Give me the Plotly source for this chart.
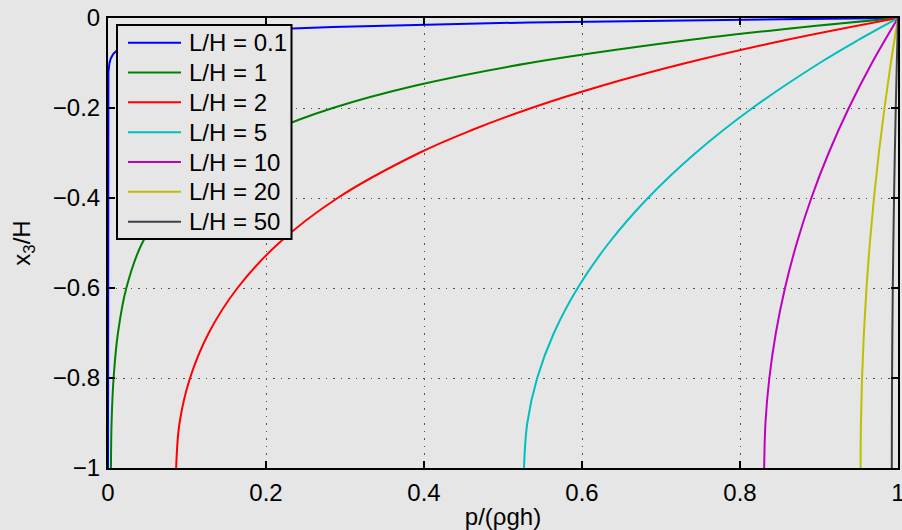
import plotly.graph_objects as go

# ---- data ----
series_labels = ["L/H = 0.1", "L/H = 1", "L/H = 2", "L/H = 5", "L/H = 10", "L/H = 20", "L/H = 50"]
series_colors = ["#0000ff", "#008000", "#ff0000", "#00bfbf", "#bf00bf", "#bfbf00", "#404040"]

x3_lh01 = [-1.0, -0.2, -0.15, -0.12, -0.1, -0.09, -0.08, -0.07, -0.06, -0.05, -0.04, -0.035,
           -0.03, -0.025, -0.02, -0.015, -0.0125, -0.01, -0.0075, -0.005, -0.0025, 0.0]
p_lh01 = [0.0, 0.0000035, 0.0000807, 0.000532, 0.001867, 0.0035, 0.00656, 0.0123, 0.02305, 0.04321,
          0.081, 0.1109, 0.1518, 0.20788, 0.2846, 0.3897, 0.45594, 0.5335, 0.62423, 0.7304, 0.85464, 1.0]

x3_lh1 = [-1.0, -0.9, -0.8, -0.7, -0.6, -0.5, -0.4, -0.3, -0.25, -0.2, -0.15, -0.1, -0.05, -0.025, 0.0]
p_lh1 = [0.00373, 0.0045, 0.00709, 0.01258, 0.02321, 0.04329, 0.08105, 0.15186, 0.2079, 0.28463,
         0.38967, 0.5335, 0.73042, 0.85464, 1.0]

x3_lh2 = [-1.0, -0.9, -0.8, -0.7, -0.6, -0.5, -0.4, -0.3, -0.25, -0.2, -0.15, -0.1, -0.05, 0.0]
p_lh2 = [0.08627, 0.09056, 0.10386, 0.1275, 0.16383, 0.21646, 0.29063, 0.39372, 0.45918, 0.53599,
         0.62608, 0.7316, 0.85523, 1.0]

x3_lh5 = [-1.0, -0.9, -0.8, -0.7, -0.6, -0.5, -0.4, -0.3, -0.2, -0.1, -0.05, 0.0]
p_lh5 = [0.52657, 0.53073, 0.54328, 0.56443, 0.5945, 0.63397, 0.68347, 0.74377, 0.81583, 0.90079,
         0.94852, 1.0]

x3_lh10 = [-1.0, -0.9, -0.8, -0.7, -0.6, -0.5, -0.4, -0.3, -0.2, -0.1, 0.0]
p_lh10 = [0.83058, 0.83222, 0.83715, 0.84538, 0.85695, 0.87191, 0.89031, 0.91222, 0.93774, 0.96696, 1.0]

x3_lh20 = [-1.0, -0.9, -0.8, -0.7, -0.6, -0.5, -0.4, -0.3, -0.2, -0.1, 0.0]
p_lh20 = [0.9526, 0.95307, 0.95448, 0.95684, 0.96013, 0.96438, 0.96957, 0.97573, 0.98285, 0.99093, 1.0]

x3_lh50 = [-1.0, -0.9, -0.8, -0.7, -0.6, -0.5, -0.4, -0.3, -0.2, -0.1, 0.0]
p_lh50 = [0.99216, 0.99223, 0.99247, 0.99286, 0.99341, 0.99411, 0.99498, 0.99599, 0.99717, 0.9985, 1.0]

x_tick_vals = [0, 0.2, 0.4, 0.6, 0.8, 1]
x_tick_text = ["0", "0.2", "0.4", "0.6", "0.8", "1"]
y_tick_vals = [-1, -0.8, -0.6, -0.4, -0.2, 0]
y_tick_text = ["\u22121", "\u22120.8", "\u22120.6", "\u22120.4", "\u22120.2", "0"]

curves = [(p_lh01, x3_lh01, "linear"), (p_lh1, x3_lh1, "spline"), (p_lh2, x3_lh2, "spline"),
          (p_lh5, x3_lh5, "spline"), (p_lh10, x3_lh10, "spline"), (p_lh20, x3_lh20, "spline"),
          (p_lh50, x3_lh50, "spline")]

BG = "#e6e6e6"
FONT = "Liberation Sans, Arial, sans-serif"
FS = 24

# layout geometry (pixels)
W, H = 902, 530
ML, MR, MT, MB = 108, 4, 18, 62
PW, PH = W - ML - MR, H - MT - MB


def px2x(px):
    return (px - ML) / PW


def py2y(py):
    return 1 - (py - MT) / PH


fig = go.Figure()
for (px, py, shape), name, col in zip(curves, series_labels, series_colors):
    fig.add_trace(go.Scatter(x=px, y=py, mode="lines", name=name, showlegend=False,
                             line=dict(color=col, width=2, shape=shape)))

axis_common = dict(
    showline=True, linecolor="black", linewidth=2, mirror="ticks",
    ticks="inside", ticklen=7, tickwidth=2, tickcolor="black",
    showgrid=True, gridcolor="#505050", gridwidth=1, griddash="1.5px,6px",
    zeroline=False, automargin=False, ticklabeloverflow="allow",
    tickfont=dict(size=FS, color="black", family=FONT),
)

fig.update_xaxes(range=[0, 1], tickvals=x_tick_vals, ticktext=x_tick_text,
                 title=dict(text="p/(\u03c1gh)", font=dict(size=FS, color="black", family=FONT)),
                 ticklabelstandoff=2, **axis_common)
fig.update_yaxes(range=[-1, 0], tickvals=y_tick_vals, ticktext=y_tick_text,
                 title=dict(text="x<sub>3</sub>/H", font=dict(size=FS, color="black", family=FONT)),
                 ticklabelstandoff=1, **axis_common)

# ---- legend box (MATLAB style) ----
LEG_X0, LEG_X1, LEG_Y0, LEG_Y1 = 117, 291.5, 25, 239
ROW0, ROW_STEP = 42.7, 29.83
SAMPLE_X0, SAMPLE_X1, TEXT_X = 128, 181, 187

shapes = [dict(type="rect", xref="paper", yref="paper", layer="above",
               x0=px2x(LEG_X0), x1=px2x(LEG_X1), y0=py2y(LEG_Y1), y1=py2y(LEG_Y0),
               line=dict(color="black", width=2), fillcolor=BG)]
annotations = []
for i, (name, col) in enumerate(zip(series_labels, series_colors)):
    yc = py2y(ROW0 + i * ROW_STEP)
    shapes.append(dict(type="line", xref="paper", yref="paper", layer="above",
                       x0=px2x(SAMPLE_X0), x1=px2x(SAMPLE_X1), y0=yc, y1=yc,
                       line=dict(color=col, width=2)))
    annotations.append(dict(xref="paper", yref="paper", x=px2x(TEXT_X), y=yc,
                            xanchor="left", yanchor="middle", showarrow=False, text=name,
                            font=dict(size=FS, family=FONT, color="black")))

fig.update_layout(
    width=W, height=H,
    margin=dict(l=ML, r=MR, t=MT, b=MB),
    paper_bgcolor=BG, plot_bgcolor=BG,
    font=dict(family=FONT, size=FS, color="black"),
    showlegend=False,
    shapes=shapes, annotations=annotations,
)

fig.write_html(
    "out.html",
    config={"displayModeBar": False},
    post_script="document.body.style.margin='0';document.body.style.overflow='hidden';"
                "document.documentElement.style.background='%s';" % BG,
)
